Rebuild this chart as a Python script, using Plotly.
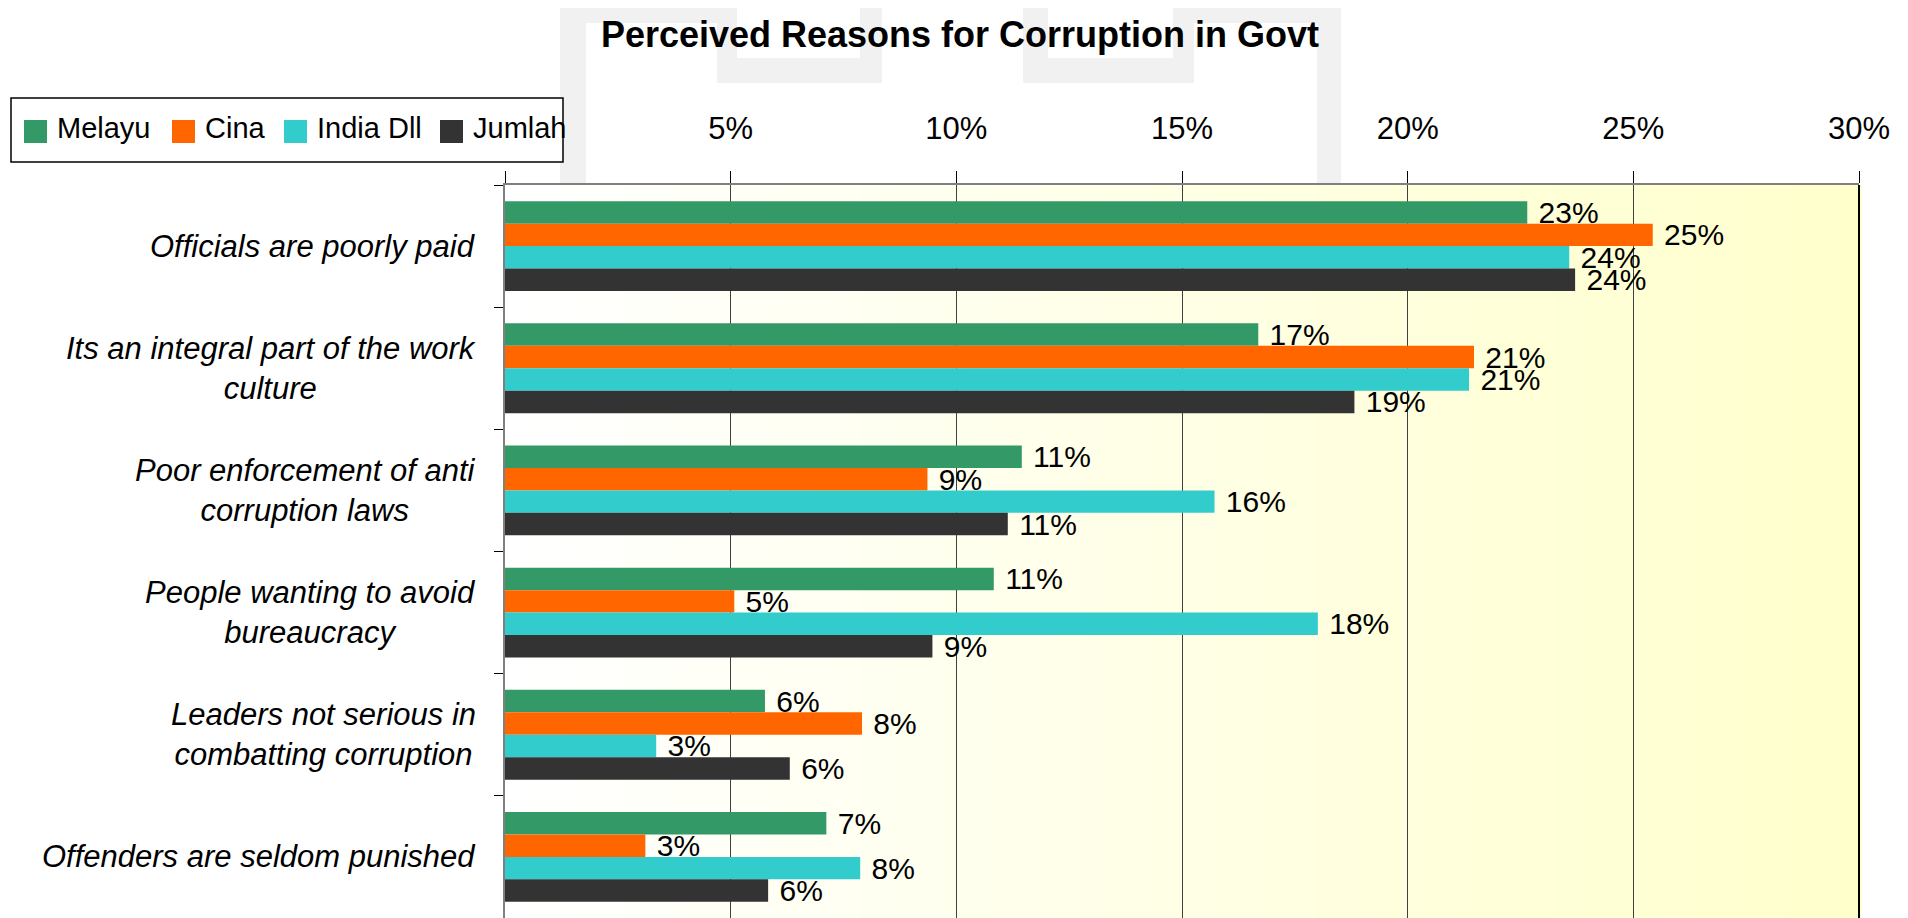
import plotly.graph_objects as go

# ---------------- data ----------------
categories = [
    "Officials are poorly paid",
    "Its an integral part of the work<br>culture",
    "Poor enforcement of anti<br>corruption laws",
    "People wanting to avoid<br>bureaucracy",
    "Leaders not serious in<br>combatting corruption",
    "Offenders are seldom punished",
]
series_names = ["Melayu", "Cina", "India Dll", "Jumlah"]
melayu = [22.65, 16.69, 11.45, 10.83, 5.76, 7.12]
cina = [25.43, 21.47, 9.36, 5.08, 7.91, 3.11]
india_dll = [23.58, 21.36, 15.72, 18.01, 3.35, 7.87]
jumlah = [23.71, 18.82, 11.14, 9.47, 6.31, 5.83]
x_tick_vals = [0, 5, 10, 15, 20, 25, 30]
x_tick_labels = ["", "5%", "10%", "15%", "20%", "25%", "30%"]
title_text = "Perceived Reasons for Corruption in Govt"

# ---------------- styles / layout ----------------
colors = ["#339966", "#FF6600", "#33CCCC", "#333333"]
OFF = 8                      # default body margin of the html page
W, H = 1908 - OFF, 918 - OFF
L, R, T, B = 505 - OFF, 49, 185 - OFF, 0
PW, PH = W - L - R, H - T - B
SANS = "Liberation Sans, Arial, sans-serif"


def px_x(px):  # page pixel -> paper x
    return (px - OFF - L) / PW


def px_y(py):  # page pixel -> paper y
    return (H - B - (py - OFF)) / PH


fig = go.Figure()
for name, vals, col in zip(series_names, [melayu, cina, india_dll, jumlah], colors):
    fig.add_trace(go.Bar(
        y=categories, x=vals, name=name, orientation="h",
        marker=dict(color=col, line=dict(width=0)),
        text=[" %d%%" % round(v) for v in vals],
        textposition="outside", textangle=0, constraintext="none",
        cliponaxis=False,
        textfont=dict(family=SANS, size=30, color="black"),
        showlegend=False,
    ))

shapes = []
# background gradient (white -> light yellow)
N = 80
for i in range(N):
    f = (i + 0.5) / N
    g = int(round(255 - f * 51))
    shapes.append(dict(type="rect", xref="x domain", yref="y domain",
                       x0=i / N, x1=(i + 1) / N + 0.002, y0=0, y1=1,
                       fillcolor="rgb(255,255,%d)" % g, line=dict(width=0),
                       layer="below"))
# faint watermark
wm = "#F1F1F1"
for (x0, x1, y0, y1, c) in [
    (560, 586, 0, 185, wm), (560, 717, 3, 23, wm), (717, 882, 0, 83, wm), (737, 860, 0, 58, "white"),
    (1317, 1341, 0, 185, wm), (1194, 1341, 3, 23, wm), (1023, 1194, 0, 83, wm), (1048, 1173, 0, 58, "white"),
]:
    shapes.append(dict(type="rect", xref="paper", yref="paper",
                       x0=px_x(x0), x1=px_x(x1), y0=px_y(y1), y1=px_y(max(y0, OFF)),
                       fillcolor=c, line=dict(width=0), layer="below"))
# right border
shapes.append(dict(type="line", xref="x domain", yref="y domain", x0=1, x1=1, y0=0, y1=1,
                   line=dict(color="black", width=2)))
# custom legend box
shapes.append(dict(type="rect", xref="paper", yref="paper",
                   x0=px_x(11), x1=px_x(563), y0=px_y(162), y1=px_y(98),
                   fillcolor="white", line=dict(color="black", width=1.5), layer="above"))
legend_sq_x = [24, 172, 284, 440]
legend_tx_x = [55, 203, 315, 471]
annotations = []
for name, col, sx, tx in zip(series_names, colors, legend_sq_x, legend_tx_x):
    shapes.append(dict(type="rect", xref="paper", yref="paper",
                       x0=px_x(sx), x1=px_x(sx + 23), y0=px_y(143), y1=px_y(120),
                       fillcolor=col, line=dict(width=0), layer="above"))
    annotations.append(dict(text=name, xref="paper", yref="paper", x=px_x(tx), y=px_y(128),
                            xanchor="left", yanchor="middle", showarrow=False,
                            font=dict(family=SANS, size=29, color="black")))

for cat in categories:
    annotations.append(dict(text="<i>%s</i>" % cat, xref="x domain", yref="y", x=0, y=cat,
                            xanchor="right", yanchor="middle", xshift=-27, align="center",
                            showarrow=False,
                            font=dict(family=SANS, size=31, color="black")))

fig.update_layout(
    width=W, height=H,
    margin=dict(l=L, r=R, t=T, b=B, pad=0),
    paper_bgcolor="white", plot_bgcolor="white",
    barmode="group", bargap=0.265, bargroupgap=0,
    title=dict(text="<b>%s</b>" % title_text, x=(960 - OFF) / W, xref="container", xanchor="center",
               y=1 - (34 - OFF) / H, yref="container", yanchor="middle",
               font=dict(family=SANS, size=36, color="black")),
    shapes=shapes, annotations=annotations,
    showlegend=False,
    xaxis=dict(range=[0, 30], side="top", tickvals=x_tick_vals, ticktext=x_tick_labels,
               showgrid=True, gridcolor="#404040", gridwidth=1, zeroline=False,
               ticks="outside", ticklen=12, tickcolor="black", tickwidth=1,
               showline=True, linecolor="#808080", linewidth=2,
               tickfont=dict(family=SANS, size=31, color="black"),
               ticklabelstandoff=20),
    yaxis=dict(type="category", categoryorder="array", categoryarray=categories,
               range=[5.5, -0.5], showticklabels=False, showgrid=False, zeroline=False,
               ticks="outside", ticklen=9, tickcolor="black", tickson="boundaries",
               showline=True, linecolor="#808080", linewidth=2),
)

fig.write_html("out.html")
